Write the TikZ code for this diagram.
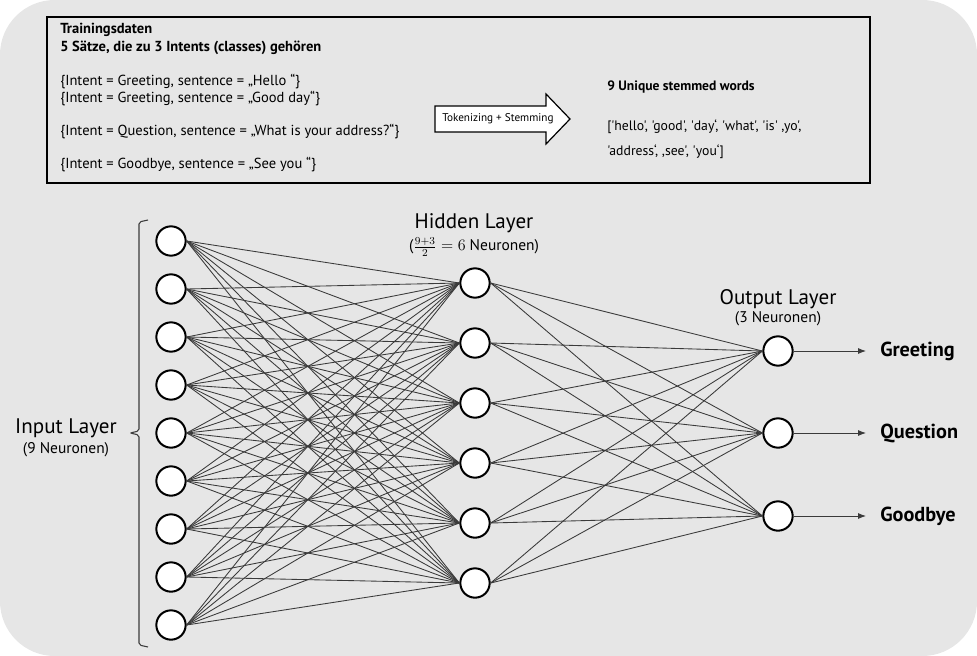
\documentclass[tikz,border=0pt]{standalone}
\usepackage[no-math]{fontspec}
\setmainfont{PT Sans}[Ligatures=TeXOff]
\usetikzlibrary{arrows.meta}
\definecolor{bggray}{HTML}{E6E6E6}
\definecolor{edgegray}{HTML}{3A3A3A}
\tikzset{
  neuron/.style={circle, draw=black, line width=1.5pt, fill=white, minimum size=22pt, inner sep=0pt},
  edge/.style={draw=edgegray, line width=0.65pt},
  boxtext/.style={anchor=base west, inner sep=0pt, font=\fontsize{10.9}{12}\selectfont},
  layertitle/.style={font=\fontsize{15.8}{18}\selectfont, inner sep=0pt},
  layersub/.style={font=\fontsize{11.6}{13}\selectfont, inner sep=0pt},
  classlabel/.style={anchor=west, font=\bfseries\fontsize{15.2}{17}\selectfont, inner sep=0pt}
}
\begin{document}
\begin{tikzpicture}[x=0.75pt, y=-0.75pt]
  \useasboundingbox (0,0) rectangle (977,656);
  \fill[bggray, rounded corners=41pt] (0,0) rectangle (977,656);
  \draw[line width=1.3pt] (47,17) rectangle (870,183);
  \node[boxtext, font=\bfseries\fontsize{10.9}{12}\selectfont] (title) at (60,34) {Trainingsdaten};
  \node[boxtext, font=\bfseries\fontsize{10.9}{12}\selectfont] (subtitle) at (60,52) {5 Sätze, die zu 3 Intents (classes) gehören};
  \node[boxtext] (sentA) at (60,86) {\{Intent = Greeting, sentence = „Hello “\}};
  \node[boxtext] (sentB) at (60,103) {\{Intent = Greeting, sentence = „Good day“\}};
  \node[boxtext] (sentC) at (60,136) {\{Intent = Question, sentence = „What is your address?“\}};
  \node[boxtext] (sentD) at (60,169) {\{Intent = Goodbye, sentence = „See you “\}};
  \draw[line width=0.9pt, fill=white] (435,106) -- (546,106) -- (546,94) -- (570,119)
    -- (546,144) -- (546,132) -- (435,132) -- cycle;
  \node[font=\fontsize{8.4}{10}\selectfont, anchor=west, inner sep=0pt] (tok) at (442,119) {Tokenizing + Stemming};
  \node[boxtext, font=\bfseries\fontsize{10.2}{12}\selectfont] (words) at (607,91) {9 Unique stemmed words};
  \node[boxtext, font=\fontsize{10.3}{12}\selectfont] (listA) at (607,131) {['hello', 'good', 'day‘, 'what', 'is' ,yo',};
  \node[boxtext, font=\fontsize{10.3}{12}\selectfont] (listB) at (607,156) {'address‘, ,see', 'you‘]};
  \foreach \i in {1, 2, ..., 9} {
    \pgfmathsetmacro{\ypos}{193 + 48*\i}
    \node[neuron] (in\i) at (171, \ypos) {};
  }
  \foreach \j in {1, 2, ..., 6} {
    \pgfmathsetmacro{\ypos}{223 + 60*\j}
    \node[neuron] (hid\j) at (475, \ypos) {};
  }
  \foreach \k/\ypos/\cls in {1/351/Greeting, 2/433/Question, 3/516/Goodbye} {
    \node[neuron] (out\k) at (778, \ypos) {};
    \node[classlabel] (cls\k) at (880, \ypos) {\cls};
    \draw[edge, -{Latex[length=6pt, width=4.5pt]}] (out\k) -- ([xshift=-14*0.75pt]cls\k.west);
  }
  \foreach \i in {1, 2, ..., 9}
    \foreach \j in {1, 2, ..., 6}
      \draw[edge] (in\i.east) -- (hid\j.west);
  \foreach \j in {1, 2, ..., 6}
    \foreach \k in {1, 2, 3}
      \draw[edge] (hid\j.east) -- (out\k.west);
  \draw[line width=0.8pt, edgegray, rounded corners=1.5pt] (148,220) -- (139,222) -- (139,431)
    -- (130,433) -- (139,435) -- (139,645) -- (148,647);
  \node[layertitle] (inlabel) at (66,428) {Input Layer};
  \node[layersub] (insub) at (66,450) {(9 Neuronen)};
  \node[layertitle] (hidlabel) at (474,223) {Hidden Layer};
  \node[layersub] (hidsub) at (474,247) {($\frac{9+3}{2} = 6$ Neuronen)};
  \node[layertitle] (outlabel) at (778,299) {Output Layer};
  \node[layersub] (outsub) at (778,319) {(3 Neuronen)};
\end{tikzpicture}
\end{document}
